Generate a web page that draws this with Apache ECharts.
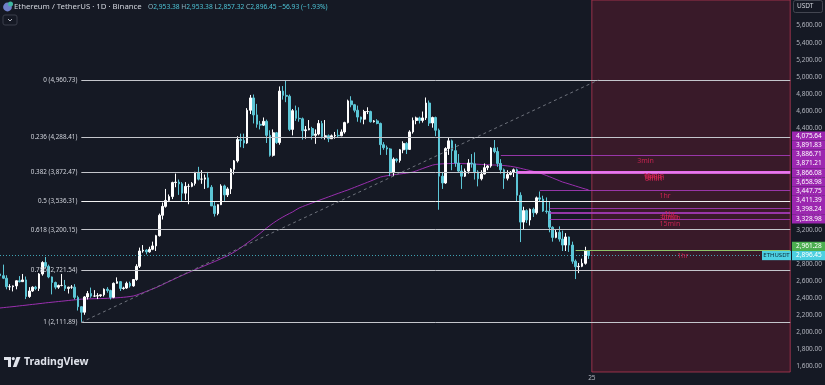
<!DOCTYPE html>
<html><head><meta charset="utf-8">
<script src="https://cdn.jsdelivr.net/npm/echarts@6/dist/echarts.min.js"></script>
<style>html,body{margin:0;padding:0;background:#151924;}#c{width:825px;height:385px;}</style>
</head><body><div id="c"></div>
<script>
// ---------- DATA ----------
const firstDate = '2025-05-28';
const futureBars = 62;
const open = [
2680,2660,2630,2530,
2530,2540,2600,2590,2610,2415,2480,2525,2510,2680, 2815,2770,2645,2580,2525,2545,2545,2510,2525,2525, 2405,2295,2230,2410,2450,2420,2420,2425,2435,2500,
2485,2405,2570,2590,2510,2515,2570,2540,2615,2770, 2950,2960,2940,2970,3010,3130,3370,3475,3545,3590, 3755,3760,3740,3630,3710,3710,3745,3875,3795,3795, 3810,
3700,3480,3390,3495,3715,3610,3680,3910,4010,4260, 4250,4220,4605,4750,4550,4440,4430,4475,4310,4075, 4340,4225,4830,4780,4770,4380,4600,4510,4505,4365, 4375,
4390,4310,4325,4450,4295,4305,4270,4305,4310,4305, 4350,4460,4715,4670,4605,4525,4500,4590,4590,4470, 4480,4450,4200,4165,4150,3870,4030,4015,4140,4215,
4145,4350,4485,4515,4485,4515,4690,4455,4520,4370, 3830,3750,4155,4245,4130,3985,3890,3830,3890,3985, 3975,3880,3800,3855,3930,3950,4160,4120,3980,3905, 3805,
3850,3875,3905,3605,3290,3425,3315,3440,3400,3575, 3560,3420,3415,3230,3110,3170,3090,3020,3115,3020, 2830,2765,2770,2805,2953.38];
const high = [
2715,2790,2665,2560,
2545,2605,2655,2680,2650,2525,2535,2540,2690,2830, 2880,2790,2650,2590,2555,2680,2610,2530,2550,2560, 2425,2300,2420,2480,2520,2490,2455,2440,2510,2525,
2495,2580,2640,2595,2530,2590,2590,2620,2795,2990, 3020,2970,3000,3060,3140,3390,3520,3680,3615,3765, 3860,3790,3760,3760,3740,3760,3880,3940,3900,3850, 3880,
3725,3530,3500,3735,3730,3700,3925,4020,4300,4330, 4330,4630,4785,4790,4680,4480,4520,4495,4370,4380, 4350,4885,4890,4956,4790,4620,4660,4640,4520,4420, 4490,
4410,4380,4490,4480,4490,4320,4320,4350,4380,4380, 4470,4730,4770,4680,4660,4530,4610,4640,4600,4490, 4500,4460,4230,4190,4160,4050,4040,4150,4240,4230,
4370,4520,4530,4530,4590,4755,4720,4530,4530,4390, 3880,4170,4290,4260,4210,4090,3960,3920,4030,4090, 4110,3900,3900,3980,3960,4170,4255,4170,4030,3920, 3900,
3890,3920,3920,3640,3470,3440,3450,3460,3590,3650, 3600,3580,3530,3240,3200,3240,3190,3160,3120,3060, 2850,2810,2860,3000,2953.38];
const low = [
2600,2620,2500,2490,
2475,2500,2580,2590,2385,2400,2470,2490,2480,2660, 2750,2630,2440,2500,2505,2535,2480,2450,2505,2380, 2250,2111.89,2200,2380,2400,2410,2385,2410,2415,2460,
2380,2395,2565,2480,2495,2505,2520,2530,2600,2750, 2930,2910,2930,2960,2950,3120,3320,3460,3525,3560, 3700,3610,3535,3550,3500,3700,3720,3780,3740,3680, 3690,
3480,3355,3370,3490,3540,3585,3620,3850,3990,4170, 4160,4210,4560,4450,4400,4380,4420,4220,4060,4060, 4210,4200,4730,4700,4360,4310,4480,4470,4260,4270, 4370,
4260,4210,4310,4270,4260,4230,4270,4270,4280,4300, 4330,4450,4640,4580,4470,4460,4440,4560,4460,4460, 4440,4080,4140,4080,3830,3830,3990,3990,4100,4090,
4140,4330,4440,4450,4460,4490,4420,4400,4300,3435, 3680,3740,4080,3900,3940,3880,3680,3820,3860,3930, 3790,3710,3780,3850,3900,3930,4100,3940,3860,3680, 3780,
3840,3820,3530,3055,3200,3280,3250,3350,3380,3530, 3410,3390,3170,3060,3100,3060,2950,2950,2940,2800, 2620,2690,2760,2790,2857.32];
const close = [
2660,2630,2530,2530,
2540,2600,2590,2610,2415,2480,2525,2510,2680,2815, 2770,2645,2580,2525,2545,2545,2510,2525,2525,2405, 2295,2230,2410,2450,2420,2420,2425,2435,2500,2485,
2405,2570,2590,2510,2515,2570,2540,2615,2770,2950, 2960,2940,2970,3010,3130,3370,3475,3545,3590,3755, 3760,3740,3630,3710,3710,3745,3875,3795,3795,3810, 3700,
3480,3390,3495,3715,3610,3680,3910,4010,4260,4250, 4220,4605,4750,4550,4440,4430,4475,4310,4075,4340, 4225,4830,4780,4770,4380,4600,4510,4505,4365,4375, 4390,
4310,4325,4450,4295,4305,4270,4305,4310,4305,4350, 4460,4715,4670,4605,4525,4500,4590,4590,4470,4480, 4450,4200,4165,4150,3870,4030,4015,4140,4215,4145,
4350,4485,4515,4485,4515,4690,4455,4520,4370,3830, 3750,4155,4245,4130,3985,3890,3830,3890,3985,3975, 3880,3800,3855,3930,3950,4160,4120,3980,3905,3805, 3850,
3875,3905,3605,3290,3425,3315,3440,3400,3575,3560, 3420,3415,3230,3110,3170,3090,3020,3115,3020,2830, 2765,2770,2805,2953.38,2896.45];
const maValues = [
2280,2284,2288,2292,2296,2300,2305,2309,2313,2318,2322,2326,2331,2335,2340,2344,2348,2352,2356,2360,2364,2368,2372,2376,2380,2384,
2386,2387,2388,2389,2390,2391,2392,2394,2396,
2398,2400,2403,2406,2410,2415,2421,
2432,2446,2460,2475,2490,2505,2520,2537,2555,2574,
2592,2610,2628,2646,2663,2680,2697,2714,2730,2746,2762,
2778,2794,2810,2826,2843,2860,2877,2895,2916,2938,
2962,2988,3015,3043,3071,3099,3128,3158,3190,3221,
3250,3278,3304,3328,3350,3371,3391,3410,3434,3456,
3472,3487,3501,3515,
3530,3544,3558,3572,3586,3600,3614,3628,3641,3655,3668,
3683,3698,3713,3728,3743,3758,3773,3789,3805,3820,
3828,3835,3841,3846,3851,3856,3861,3866,3872,3879,
3892,3906,3920,3934,3947,3960,3968,
3972,3975,3977,3978,3979,3979,3979,3978,3977,3976,3974,3972,3970,3968,3966,3964,3962,3961,3960,3958,3955,3951,3946,
3940,3932,3923,3914,3905,3896,3887,3877,3867,
3853,3838,3823,3808,3792,3777,3761,
3750,3738,3726,3714,3702,3690,3679,3668];
const fibLevels = [0, 0.236, 0.382, 0.5, 0.618, 0.786, 1];
const fibPrices = [4960.73, 4288.41, 3872.47, 3536.31, 3200.15, 2721.54, 2111.89];
const levelPrices = [4075.64, 3891.83, 3886.71, 3871.21, 3866.08, 3658.98, 3447.75, 3411.39, 3398.24, 3328.98];
const levelTags   = ['3min', '15min', '5min', '15min', '5min', '1hr', '1hr', '5min', '30min', '15min'];
const levelStartBar = [154, 159, 159, 159, 159, 166, 169, 169, 169, 169];
const greenLevel = 2961.28, greenTag = '1hr', greenStartBar = 177;
const yTickValues = [1600,1800,2000,2200,2400,2600,2800,3000,3200,3400,3600,3800,4000,4200,4400,4600,4800,5000,5200,5400,5600];
const xTickText = '25';
const yMin = 1527.4, yMax = 5901.4;
// ---------- BUILD ----------
const FONT = 'Noto Sans';
const fmt = v => v.toLocaleString('en-US', {minimumFractionDigits: 2, maximumFractionDigits: 2});
const cats = [];
const d0 = new Date(firstDate + 'T00:00:00Z');
for (let i = 0; i < open.length + futureBars; i++) {
  cats.push(new Date(d0.getTime() + i * 86400000).toISOString().slice(0, 10));
}
const lastIdx = cats.length - 1;
const nReal = open.length;
const lowIdx = low.indexOf(Math.min(...low));
const candles = open.map((o, i) => [o, close[i], low[i], high[i]]);

const ml = [];
fibLevels.forEach((lv, i) => {
  const p = fibPrices[i];
  const st = {color: lv === 0.5 ? '#f2f2f2' : '#c4c6cc', width: 1, type: 'solid'};
  ml.push([{coord: [cats[lowIdx], p], lineStyle: st,
    label: {show: true, position: 'start', formatter: lv + ' (' + fmt(p) + ')', color: '#d1d4dc', fontSize: 6.3, fontFamily: FONT, padding: [0, 0, 13, 0], distance: 4}},
    {coord: [cats[lastIdx], p], lineStyle: st}]);
});
ml.push([{coord: [cats[lowIdx], fibPrices[6]], lineStyle: {type: [3, 3], color: '#6e727c', width: 1}},
         {coord: [cats[nReal + 2], fibPrices[0]], lineStyle: {type: [3, 3], color: '#6e727c', width: 1}}]);
levelPrices.forEach((v, i) => {
  const bright = i >= 1 && i <= 4;
  const st = {color: bright ? 'rgba(236,110,240,0.85)' : 'rgba(170,60,190,0.85)', width: 1, type: 'solid'};
  ml.push([{coord: [cats[levelStartBar[i]], v], lineStyle: st,
    label: {show: true, position: 'insideMiddleBottom', formatter: levelTags[i], color: 'rgba(215,35,85,0.9)', fontSize: 7, fontFamily: FONT, distance: 2}},
    {coord: [cats[lastIdx], v], lineStyle: st}]);
});
ml.push([{coord: [cats[greenStartBar], greenLevel], lineStyle: {color: '#8fc46a', width: 1, type: 'solid'},
  label: {show: true, position: 'insideMiddleBottom', formatter: greenTag, color: 'rgba(215,35,85,0.9)', fontSize: 7, fontFamily: FONT, distance: 2}},
  {coord: [cats[lastIdx], greenLevel], lineStyle: {color: '#8fc46a', width: 1, type: 'solid'}}]);
ml.push({yAxis: close[nReal - 1], lineStyle: {type: [1, 2], color: 'rgba(77,208,225,0.75)', width: 1}});

const option = {
  backgroundColor: '#151924',
  animation: false,
  grid: {left: 0, right: 34, top: 0, bottom: 13},
  xAxis: {type: 'category', data: cats, boundaryGap: false,
    axisLine: {show: false}, axisTick: {show: false}, splitLine: {show: false},
    axisLabel: {interval: (i) => i === nReal, formatter: (v, i) => (i === nReal ? xTickText : ''),
      color: '#b2b5be', fontSize: 6.5, margin: 3, fontFamily: FONT}},
  yAxis: {type: 'value', position: 'right', min: yMin, max: yMax,
    splitLine: {show: false}, axisLine: {show: false}, axisTick: {show: false},
    axisLabel: {customValues: yTickValues, formatter: (v) => fmt(v), color: '#b2b5be', fontSize: 6.5, margin: 6, fontFamily: FONT}},
  series: [
    {type: 'line', name: 'MA', data: maValues, symbol: 'none', smooth: false,
      lineStyle: {color: 'rgba(168,50,190,0.9)', width: 1}, z: 1},
    {type: 'candlestick', name: 'ETHUSDT', data: candles, barWidth: 2.2, z: 2,
      itemStyle: {color: '#ffffff', color0: '#5cc6d6', borderColor: '#ffffff', borderColor0: '#5cc6d6', borderWidth: 1},
      markLine: {silent: true, symbol: ['none', 'none'], animation: false, label: {show: false}, data: ml},
      markArea: {silent: true, itemStyle: {color: 'rgba(150,30,55,0.28)', borderColor: 'rgba(200,60,90,0.7)', borderWidth: 1},
        data: [[{xAxis: cats[nReal]}, {xAxis: cats[lastIdx]}]]}}
  ]
};
const chart = echarts.init(document.getElementById('c'), null, {renderer: 'canvas'});
chart.setOption(option);

// ---------- text measuring ----------
const mctx = document.createElement('canvas').getContext('2d');
function fitSize(text, targetW, weight) {
  mctx.font = (weight || 'normal') + ' 10px "' + FONT + '"';
  return 10 * targetW / mctx.measureText(text).width;
}

// ---------- axis badges & decorations ----------
const py = v => chart.convertToPixel({yAxisIndex: 0}, v);
const BH = 9.2, AX = 792;
const g = [];
function badge(yc, text, bg, fg) {
  g.push({type: 'rect', shape: {x: AX, y: yc - BH / 2, width: 33, height: BH}, style: {fill: bg}, z: 100});
  g.push({type: 'text', x: AX + 4, y: yc, style: {text: text, fill: fg, fontSize: 6.5, fontFamily: FONT, verticalAlign: 'middle'}, z: 101});
}
const order = levelPrices.map((v, i) => i).sort((a, b) => levelPrices[a] - levelPrices[b]);
let prev = Infinity;
order.forEach(i => {
  const y = Math.min(py(levelPrices[i]), prev - BH);
  prev = y;
  badge(y, fmt(levelPrices[i]), '#9c27b0', '#ffffff');
});
const lastY = py(close[nReal - 1]);
const greenY = Math.min(py(greenLevel), lastY - BH);
badge(greenY, fmt(greenLevel), '#4caf50', '#ffffff');
badge(lastY, fmt(close[nReal - 1]), '#4dd0e1', '#ffffff');
g.push({type: 'rect', shape: {x: 762, y: lastY - BH / 2, width: 29, height: BH}, style: {fill: '#4dd0e1'}, z: 100});
g.push({type: 'text', x: 776.5, y: lastY, style: {text: 'ETHUSDT', fill: '#0d2a3a', fontSize: 6, fontFamily: FONT, align: 'center', verticalAlign: 'middle'}, z: 101});
g.push({type: 'rect', shape: {x: 793.5, y: 0.5, width: 29, height: 12, r: 2}, style: {fill: '#151924', stroke: '#434651', lineWidth: 1}, z: 100});
g.push({type: 'text', x: 797, y: 6.5, style: {text: 'USDT', fill: '#d1d4dc', fontSize: 6.5, fontFamily: FONT, verticalAlign: 'middle'}, z: 101});
g.push({type: 'circle', shape: {cx: 7.5, cy: 7, r: 4.4}, style: {fill: '#6f7fc9'}, z: 100});
g.push({type: 'circle', shape: {cx: 10.5, cy: 4, r: 2.5}, style: {fill: '#3fb5a0'}, z: 101});
const title = 'Ethereum / TetherUS · 1D · Binance';
const titleSize = Math.min(9, fitSize(title, 128));
g.push({type: 'text', x: 14, y: 7, style: {text: title, fill: '#d1d4dc', fontSize: titleSize, fontFamily: FONT, verticalAlign: 'middle'}, z: 100});
const o = open[nReal - 1], h = high[nReal - 1], l = low[nReal - 1], c = close[nReal - 1], pc = close[nReal - 2];
const ch = c - pc, pct = ch / pc * 100;
const sg = x => (x < 0 ? '\u2212' : '+') + fmt(Math.abs(x));
const ohlcPlain = 'O' + fmt(o) + ' H' + fmt(h) + ' L' + fmt(l) + ' C' + fmt(c) + ' ' + sg(ch) + ' (' + sg(pct) + '%)';
const ohlcSize = Math.min(7.5, fitSize(ohlcPlain, 180));
g.push({type: 'text', x: 148, y: 7, style: {
  text: '{k|O}{v|' + fmt(o) + '} {k|H}{v|' + fmt(h) + '} {k|L}{v|' + fmt(l) + '} {k|C}{v|' + fmt(c) + '} {v|' + sg(ch) + ' (' + sg(pct) + '%)}',
  verticalAlign: 'middle', fontSize: ohlcSize, fontFamily: FONT,
  rich: {k: {fill: '#8fb8c4', fontSize: ohlcSize, fontFamily: FONT}, v: {fill: '#4dc4d6', fontSize: ohlcSize, fontFamily: FONT}}}, z: 100});
g.push({type: 'rect', shape: {x: 3, y: 15, width: 14, height: 10, r: 2}, style: {fill: 'none', stroke: '#3a3e4a', lineWidth: 1}, z: 100});
g.push({type: 'polyline', shape: {points: [[8, 19], [10, 21], [12, 19]]}, style: {stroke: '#b2b5be', lineWidth: 1, fill: 'none'}, z: 101});
g.push({type: 'polygon', shape: {points: [[4, 357], [11, 357], [11, 367], [8, 367], [8, 360], [4, 360]]}, style: {fill: '#e0e3eb'}, z: 100});
g.push({type: 'circle', shape: {cx: 13.3, cy: 358.6, r: 1.6}, style: {fill: '#e0e3eb'}, z: 100});
g.push({type: 'polygon', shape: {points: [[16.5, 357], [20.5, 357], [16.5, 367], [12.8, 367]]}, style: {fill: '#e0e3eb'}, z: 100});
g.push({type: 'text', x: 24, y: 362, style: {text: 'TradingView', fill: '#e0e3eb', fontSize: 10.5, fontWeight: 'bold', fontFamily: FONT, verticalAlign: 'middle'}, z: 100});
chart.setOption({graphic: g});
</script></body></html>
